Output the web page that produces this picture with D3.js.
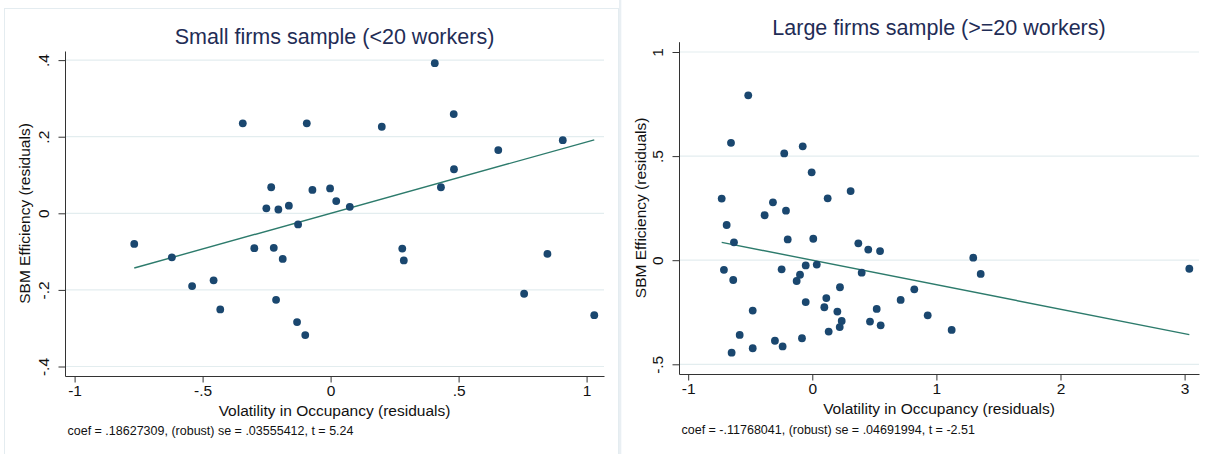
<!DOCTYPE html>
<html>
<head>
<meta charset="utf-8">
<script src="https://cdn.jsdelivr.net/npm/d3@7"></script>
<style>
  html, body { margin: 0; padding: 0; background: #ffffff; }
  svg { display: block; font-family: "Liberation Sans", Arial, sans-serif; }
</style>
</head>
<body>
<svg id="chart" width="1211" height="454"></svg>
<script>
// ---------- Data ----------
const smallTitle = "Small firms sample (<20 workers)";
const smallX = [-0.767, -0.620, -0.541, -0.457, -0.431, -0.343, -0.298, -0.251, -0.232, -0.222,
                -0.213, -0.204, -0.187, -0.163, -0.131, -0.127, -0.099, -0.093, -0.071, -0.002,
                 0.022,  0.075,  0.200,  0.280,  0.286,  0.407,  0.431,  0.481,  0.482,  0.655,
                 0.756,  0.847,  0.907,  1.030];
const smallY = [-0.080, -0.115, -0.190, -0.175, -0.251,  0.235, -0.091,  0.013,  0.068, -0.090,
                -0.226,  0.010, -0.119,  0.020, -0.284, -0.029, -0.318,  0.235,  0.061,  0.065,
                 0.032,  0.017,  0.226, -0.092, -0.123,  0.392,  0.068,  0.259,  0.115,  0.165,
                -0.210, -0.106,  0.191, -0.266];
const smallCoef = 0.18627309;
const smallNote = "coef = .18627309, (robust) se = .03555412, t = 5.24";
const smallXTicks = [-1, -0.5, 0, 0.5, 1];
const smallXLabels = ["-1", "-.5", "0", ".5", "1"];
const smallYTicks = [-0.4, -0.2, 0, 0.2, 0.4];
const smallYLabels = ["-.4", "-.2", "0", ".2", ".4"];

const largeTitle = "Large firms sample (>=20 workers)";
const largeX = [-0.516, -0.655, -0.226, -0.077, -0.005, -0.730, -0.317, -0.212, -0.384,  0.124,
                 0.309, -0.690, -0.631, -0.198,  0.008,  0.371,  0.451,  0.546, -0.712, -0.637,
                -0.247, -0.053,  0.036, -0.099, -0.126,  0.398,  0.223,  0.822,  0.712, -0.480,
                -0.053,  0.113,  0.097,  0.202,  0.519,  0.237,  0.221,  0.465,  0.551,  0.132,
                -0.585, -0.301, -0.239, -0.083, -0.480, -0.650,  0.930,  1.123,  1.297,  1.357,
                 3.038];
const largeY = [ 0.792,  0.564,  0.513,  0.547,  0.422,  0.296,  0.278,  0.238,  0.216,  0.297,
                 0.332,  0.169,  0.086,  0.100,  0.103,  0.081,  0.051,  0.044, -0.046, -0.095,
                -0.044, -0.025, -0.021, -0.070, -0.100, -0.060, -0.130, -0.140, -0.191, -0.242,
                -0.201, -0.182, -0.226, -0.247, -0.234, -0.292, -0.321, -0.295, -0.313, -0.343,
                -0.359, -0.387, -0.414, -0.375, -0.423, -0.444, -0.265, -0.335,  0.012, -0.066,
                -0.041];
const largeCoef = -0.11768041;
const largeNote = "coef = -.11768041, (robust) se = .04691994, t = -2.51";
const largeXTicks = [-1, 0, 1, 2, 3];
const largeXLabels = ["-1", "0", "1", "2", "3"];
const largeYTicks = [-0.5, 0, 0.5, 1];
const largeYLabels = ["-.5", "0", ".5", "1"];

const xTitle = "Volatility in Occupancy (residuals)";
const yTitle = "SBM Efficiency (residuals)";

// ---------- Styles ----------
const C = {
  title: "#1f2d56",
  point: "#1a476f",
  fit: "#2d7b6c",
  grid: "#e3edef",
  axis: "#333333",
  text: "#111111",
  frame: "#e4ecf0"
};

const svg = d3.select("#chart");

// Left panel frame
svg.append("rect").attr("x", 4.5).attr("y", 8.5).attr("width", 614).attr("height", 450)
  .attr("fill", "none").attr("stroke", C.frame).attr("stroke-width", 1);
svg.append("rect").attr("x", 619).attr("y", 0).attr("width", 2.3).attr("height", 454)
  .attr("fill", "#e9eff3");

function panel(cfg) {
  const x = d3.scaleLinear().domain(cfg.xDom).range([cfg.left, cfg.right]);
  const y = d3.scaleLinear().domain(cfg.yDom).range([cfg.bottom, cfg.top]);
  const g = svg.append("g");

  // gridlines
  g.append("g").selectAll("line").data(cfg.yTicks).join("line")
    .attr("x1", cfg.left + 1).attr("x2", cfg.right)
    .attr("y1", d => y(d)).attr("y2", d => y(d))
    .attr("stroke", C.grid).attr("stroke-width", 1.2);

  // x axis
  const xa = g.append("g").attr("transform", `translate(0,${cfg.bottom})`)
    .call(d3.axisBottom(x).tickValues(cfg.xTicks)
      .tickFormat((d, i) => cfg.xLabels[i]).tickSize(6.5).tickSizeOuter(0).tickPadding(2.5));
  xa.selectAll("text").attr("font-size", 15.5).attr("fill", C.text)
    .attr("font-family", '"Liberation Sans", Arial, sans-serif');
  xa.selectAll("line, path").attr("stroke", C.axis);

  // y axis
  const ya = g.append("g").attr("transform", `translate(${cfg.left},0)`)
    .call(d3.axisLeft(y).tickValues(cfg.yTicks)
      .tickFormat((d, i) => cfg.yLabels[i]).tickSize(6.5).tickSizeOuter(0));
  ya.selectAll("text")
    .attr("x", null).attr("dy", null).attr("y", null)
    .attr("transform", "translate(-16.5,0) rotate(-90)")
    .attr("text-anchor", "middle")
    .attr("font-size", 15.5).attr("fill", C.text)
    .attr("font-family", '"Liberation Sans", Arial, sans-serif');
  ya.selectAll("line, path").attr("stroke", C.axis);

  // fit line
  const ext = d3.extent(cfg.xs);
  const line = d3.line().x(d => x(d)).y(d => y(cfg.coef * d));
  g.append("path").datum(ext).attr("d", line)
    .attr("fill", "none").attr("stroke", C.fit).attr("stroke-width", 1.4);

  // points
  g.append("g").selectAll("circle").data(cfg.xs.map((v, i) => [v, cfg.ys[i]])).join("circle")
    .attr("cx", d => x(d[0])).attr("cy", d => y(d[1])).attr("r", 3.9)
    .attr("fill", C.point);

  const cx = (cfg.left + cfg.right) / 2;
  // title
  g.append("text").attr("x", cx).attr("y", cfg.titleY).attr("text-anchor", "middle")
    .attr("font-size", 21.5).attr("fill", C.title).text(cfg.title);
  // x title
  g.append("text").attr("x", cx).attr("y", cfg.bottom + 40).attr("text-anchor", "middle")
    .attr("font-size", 15.5).attr("fill", C.text).text(xTitle);
  // y title
  g.append("text")
    .attr("transform", `translate(${cfg.yTitleX},${(cfg.top + cfg.bottom) / 2}) rotate(-90)`)
    .attr("text-anchor", "middle").attr("font-size", 15.5).attr("fill", C.text).text(yTitle);
  // note
  g.append("text").attr("x", cfg.left + 2.5).attr("y", cfg.noteY)
    .attr("font-size", 12.5).attr("fill", C.text).text(cfg.note);
}

panel({
  xs: smallX, ys: smallY, coef: smallCoef, title: smallTitle, note: smallNote,
  xTicks: smallXTicks, xLabels: smallXLabels, yTicks: smallYTicks, yLabels: smallYLabels,
  xDom: [-1.0375, 1.068], yDom: [-0.4248, 0.4238],
  left: 65, right: 604, top: 51, bottom: 376,
  titleY: 44, yTitleX: 29.5, noteY: 435
});

panel({
  xs: largeX, ys: largeY, coef: largeCoef, title: largeTitle, note: largeNote,
  xTicks: largeXTicks, xLabels: largeXLabels, yTicks: largeYTicks, yLabels: largeYLabels,
  xDom: [-1.074, 3.116], yDom: [-0.5466, 1.0495],
  left: 679, right: 1199, top: 41.7, bottom: 374,
  titleY: 35, yTitleX: 645.5, noteY: 434
});
</script>
</body>
</html>
